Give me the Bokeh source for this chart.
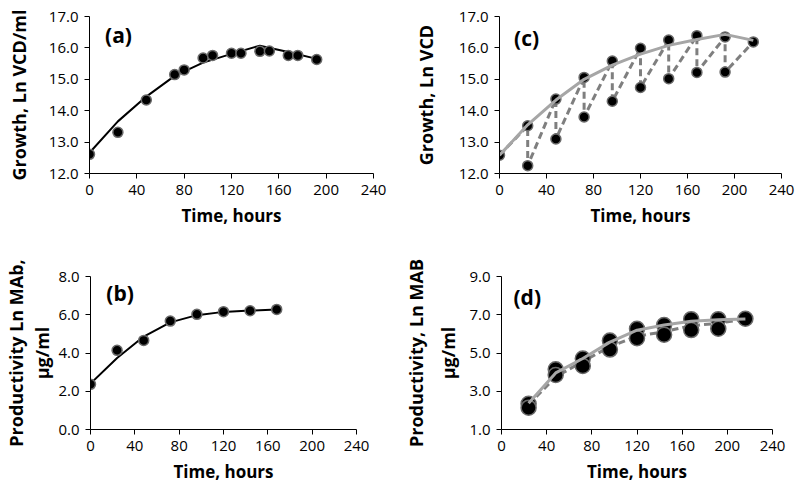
from bokeh.plotting import figure
from bokeh.models import Range1d, FixedTicker, NumeralTickFormatter, LinearAxis
from bokeh.layouts import column, row
from bokeh.embed import file_html
from bokeh.resources import INLINE
from bokeh.core.properties import value

# ---------------- data ----------------
X_TICKS = [0, 40, 80, 120, 160, 200, 240]

# (a) growth, batch
A_time = [0, 24, 48, 72, 80, 96, 104, 120, 128, 144, 152, 168, 176, 192]
A_vcd = [12.61, 13.31, 14.34, 15.15, 15.30, 15.68, 15.76, 15.83, 15.83, 15.89, 15.90, 15.76, 15.76, 15.63]
A_fit_time = [0, 24, 48, 72, 96, 120, 144, 168, 192]
A_fit = [12.66, 13.66, 14.45, 15.11, 15.53, 15.81, 16.07, 15.87, 15.65]
A_yticks = [12, 13, 14, 15, 16, 17]

# (b) productivity, batch
B_time = [0, 24, 48, 72, 96, 120, 144, 168]
B_mab = [2.36, 4.14, 4.66, 5.67, 6.02, 6.16, 6.21, 6.28]
B_fit = [2.40, 3.74, 4.86, 5.60, 5.98, 6.15, 6.22, 6.27]
B_yticks = [0, 2, 4, 6, 8]

# (c) growth (sawtooth)
C_time = [0, 24, 24, 48, 48, 72, 72, 96, 96, 120, 120, 144, 144, 168, 168, 192, 192, 216]
C_vcd = [12.58, 13.52, 12.25, 14.37, 13.10, 15.06, 13.80, 15.58, 14.30, 15.99, 14.74,
         16.25, 15.02, 16.39, 15.22, 16.35, 15.23, 16.19]
C_fit_time = [0, 24, 48, 72, 96, 120, 144, 168, 192, 216]
C_fit = [12.58, 13.55, 14.34, 15.00, 15.45, 15.80, 16.08, 16.27, 16.43, 16.24]
C_yticks = [12, 13, 14, 15, 16, 17]

# (d) productivity
D_time = [24, 24, 48, 48, 72, 72, 96, 96, 120, 120, 144, 144, 168, 168, 192, 192, 216]
D_mab = [2.34, 2.14, 4.15, 3.85, 4.71, 4.32, 5.65, 5.18, 6.27, 5.77, 6.46, 5.96,
         6.77, 6.20, 6.77, 6.27, 6.79]
D_fit_time = [24, 48, 72, 96, 120, 144, 168, 192, 216]
D_fit = [2.37, 3.96, 4.71, 5.57, 6.19, 6.46, 6.66, 6.74, 6.78]
D_dash = [2.30, 3.75, 4.56, 5.33, 5.88, 6.11, 6.43, 6.55, 6.79]
D_yticks = [1, 3, 5, 7, 9]

FONT = "Open Sans"
YLAB_SIZE = "18px"
XLAB_SIZE = "17px"
TICK_SIZE = "15px"


def make_fig(w, h, left, right, top, bottom, yr, yticks, ylabel, ylabel_standoff,
             xlabel_standoff, outer_label=None, outer_standoff=0):
    p = figure(width=w, height=h, title=None,
               min_border_left=left, min_border_right=right,
               min_border_top=top, min_border_bottom=bottom,
               x_range=Range1d(0, 240), y_range=Range1d(*yr),
               output_backend="svg", toolbar_location=None, tools="")
    p.outline_line_color = None
    p.grid.visible = False
    p.background_fill_color = "white"
    p.border_fill_color = "white"
    for ax in (p.xaxis[0], p.yaxis[0]):
        ax.axis_line_color = "black"
        ax.axis_line_width = 1
        ax.major_tick_line_color = "black"
        ax.major_tick_out = 5
        ax.major_tick_in = 0
        ax.minor_tick_line_color = None
        ax.major_label_text_font = FONT
        ax.major_label_text_font_size = TICK_SIZE
        ax.major_label_text_color = "black"
        ax.major_label_standoff = 6
        ax.axis_label_text_font = FONT
        ax.axis_label_text_font_style = "bold"
        ax.axis_label_text_color = "black"
    p.xaxis[0].axis_label_text_font_size = XLAB_SIZE
    p.yaxis[0].axis_label_text_font_size = YLAB_SIZE
    p.xaxis[0].ticker = FixedTicker(ticks=X_TICKS)
    p.xaxis[0].axis_label = "Time, hours"
    p.xaxis[0].axis_label_standoff = xlabel_standoff
    p.yaxis[0].ticker = FixedTicker(ticks=yticks)
    p.yaxis[0].formatter = NumeralTickFormatter(format="0.0")
    p.yaxis[0].axis_label = ylabel
    p.yaxis[0].axis_label_standoff = ylabel_standoff
    if outer_label is not None:
        ax2 = LinearAxis(ticker=FixedTicker(ticks=[]), axis_label=outer_label,
                         axis_line_color=None, major_tick_out=0, major_tick_in=0,
                         minor_tick_line_color=None, major_label_standoff=0,
                         axis_label_standoff=outer_standoff,
                         axis_label_text_font=FONT, axis_label_text_font_size=YLAB_SIZE,
                         axis_label_text_font_style="bold", axis_label_text_color="black")
        p.add_layout(ax2, "left")
    return p


def panel_label(p, x, y, txt):
    p.text(x=[x], y=[y], text=[txt], text_font=value(FONT), text_font_size="21px",
           text_font_style="bold", text_align="center", text_baseline="middle",
           text_color="black")


PT_LINE = "#6a6a6a"

# (a)
pa = make_fig(400, 240, 89, 27, 16, 66, (12, 17), A_yticks, "Growth, Ln VCD/ml", 15, 6)
pa.line(A_fit_time, A_fit, line_color="black", line_width=2)
pa.scatter(A_time, A_vcd, size=10, fill_color="black", line_color=PT_LINE, line_width=1.5)
panel_label(pa, 24.5, 16.42, "(a)")

# (c)
pc = make_fig(396, 240, 99, 15, 6, 67, (12, 17), C_yticks, "Growth, Ln VCD", 18, 6)
pc.line(C_time, C_vcd, line_color="#7f7f7f", line_width=3, line_dash="7 4")
pc.scatter(C_time, C_vcd, size=10, fill_color="black", line_color=PT_LINE, line_width=1.5)
pc.line(C_fit_time, C_fit, line_color="#a6a6a6", line_width=3)
panel_label(pc, 23, 16.33, "(c)")

# (b)
pb = make_fig(400, 251, 89, 44, 36, 60, (0, 8), B_yticks, "\u03bcg/ml", 1, 6,
              outer_label="Productivity Ln MAb,", outer_standoff=0)
pb.line(B_time, B_fit, line_color="black", line_width=2)
pb.scatter(B_time, B_mab, size=10, fill_color="black", line_color=PT_LINE, line_width=1.5)
panel_label(pb, 26.7, 7.15, "(b)")

# (d)
pd_ = make_fig(396, 251, 99, 24, 18, 62, (1, 9), D_yticks, "\u03bcg/ml", 6, 6,
               outer_label="Productivity, Ln MAB", outer_standoff=6)
pd_.line(D_fit_time, D_dash, line_color="#7f7f7f", line_width=3, line_dash="7 4")
pd_.scatter(D_time, D_mab, size=15, fill_color="black", line_color=PT_LINE, line_width=1.5)
pd_.line(D_fit_time, D_fit, line_color="#a6a6a6", line_width=3)
panel_label(pd_, 22.8, 7.94, "(d)")

layout = column(row(pa, pc), row(pb, pd_))
open("out.html", "w").write(file_html(layout, INLINE))
